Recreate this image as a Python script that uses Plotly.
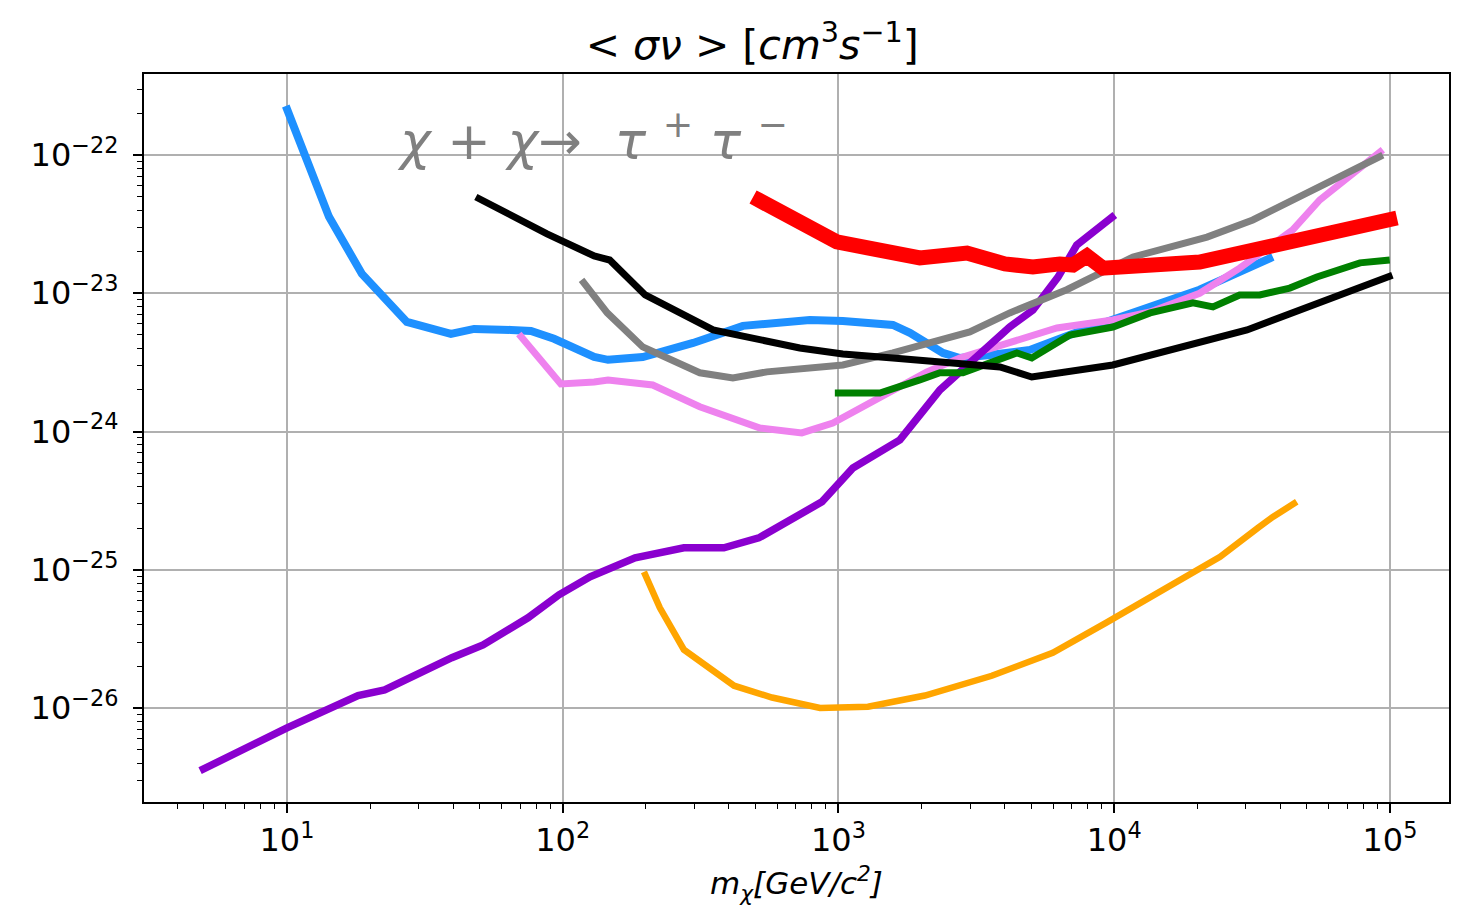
import plotly.graph_objects as go
import numpy as np

# ---- data (mass in GeV/c^2, <sigma v> in cm^3 s^-1) ----
blue_m = [9.9, 14.2, 18.7, 25.1, 27.2, 39.3, 47.7, 64.9, 76.7, 93, 130, 146, 195, 297, 450, 787, 1037, 1575, 1815, 2392, 2755, 3540, 4943, 7690, 9885, 20400, 37600]
blue_sv = [2.26e-22, 3.57e-23, 1.38e-23, 7.08e-24, 6.2e-24, 5.08e-24, 5.52e-24, 5.43e-24, 5.34e-24, 4.68e-24, 3.46e-24, 3.3e-24, 3.46e-24, 4.37e-24, 5.81e-24, 6.41e-24, 6.31e-24, 5.9e-24, 5.17e-24, 3.7e-24, 3.4e-24, 3.58e-24, 3.89e-24, 5.43e-24, 6.41e-24, 1.06e-23, 1.83e-23]

pink_m = [69.3, 98.4, 130, 146, 212, 314, 519, 736, 954, 1378, 2093, 2755, 4180, 6196, 9885, 13500, 20400, 28500, 44400, 55600, 94200]
pink_sv = [5.08e-24, 2.21e-24, 2.28e-24, 2.36e-24, 2.17e-24, 1.51e-24, 1.06e-24, 9.77e-25, 1.15e-24, 1.69e-24, 2.7e-24, 3.4e-24, 4.44e-24, 5.61e-24, 6.41e-24, 7.33e-24, 1.0e-23, 1.52e-23, 2.87e-23, 4.73e-23, 1.09e-22]

purple_m = [4.84, 7.4, 10, 18.1, 22.6, 39.6, 51.4, 74.8, 96.9, 125.6, 183, 275, 384, 514, 871, 1128, 1670, 2333, 3126, 4180, 5070, 6252, 7311, 10050]
purple_sv = [3.52e-27, 5.42e-27, 7.19e-27, 1.23e-26, 1.35e-26, 2.31e-26, 2.86e-26, 4.49e-26, 6.59e-26, 8.89e-26, 1.22e-25, 1.44e-25, 1.44e-25, 1.7e-25, 3.1e-25, 5.45e-25, 8.69e-25, 2.0e-24, 3.4e-24, 5.7e-24, 7.57e-24, 1.31e-23, 2.23e-23, 3.68e-23]

orange_m = [197, 225, 275, 418, 574, 857, 1279, 2058, 3597, 5984, 9330, 17600, 24200, 33200, 37600, 45900]
orange_sv = [9.66e-26, 5.31e-26, 2.64e-26, 1.45e-26, 1.19e-26, 1.0e-26, 1.02e-26, 1.23e-26, 1.71e-26, 2.51e-26, 4.13e-26, 8.45e-26, 1.24e-25, 2.01e-25, 2.41e-25, 3.1e-25]

green_m = [970, 1413, 1972, 2333, 2827, 4011, 4433, 5023, 6902, 9885, 13500, 19300, 22800, 28500, 33700, 43300, 54300, 77800, 99800]
green_sv = [1.9e-24, 1.9e-24, 2.36e-24, 2.66e-24, 2.66e-24, 3.46e-24, 3.7e-24, 3.4e-24, 4.99e-24, 5.7e-24, 7.21e-24, 8.51e-24, 7.96e-24, 9.72e-24, 9.72e-24, 1.09e-23, 1.31e-23, 1.66e-23, 1.74e-23]

gray_m = [117, 145, 195, 314, 414, 550, 1037, 1575, 2993, 4180, 6725, 11700, 21700, 31800, 62000, 94200]
gray_sv = [1.25e-23, 7.21e-24, 4.09e-24, 2.66e-24, 2.44e-24, 2.7e-24, 3.03e-24, 3.7e-24, 5.25e-24, 7.21e-24, 1.06e-23, 1.83e-23, 2.55e-23, 3.39e-23, 6.59e-23, 1.0e-22]

black_m = [48.4, 87.7, 130, 148, 199, 351, 724, 1037, 1575, 2392, 3850, 5023, 9885, 30300, 102000]
black_sv = [4.97e-23, 2.69e-23, 1.86e-23, 1.74e-23, 9.72e-24, 5.43e-24, 4.02e-24, 3.64e-24, 3.4e-24, 3.13e-24, 2.93e-24, 2.48e-24, 3.03e-24, 5.43e-24, 1.35e-23]

red_m = [490, 986, 1972, 2924, 4011, 5070, 6353, 7083, 7960, 9100, 20400, 47000, 106000]
red_sv = [4.97e-23, 2.35e-23, 1.8e-23, 1.95e-23, 1.63e-23, 1.55e-23, 1.63e-23, 1.6e-23, 1.86e-23, 1.52e-23, 1.68e-23, 2.43e-23, 3.5e-23]

x_ticks = [10, 100, 1000, 10000, 100000]
x_ticktext = ["10<sup>1</sup>", "10<sup>2</sup>", "10<sup>3</sup>", "10<sup>4</sup>", "10<sup>5</sup>"]
y_ticks = [1e-26, 1e-25, 1e-24, 1e-23, 1e-22]
y_ticktext = ["10<sup>−26</sup>", "10<sup>−25</sup>", "10<sup>−24</sup>", "10<sup>−23</sup>", "10<sup>−22</sup>"]

series = [
    (blue_m, blue_sv, "#1E90FF", 8),
    (pink_m, pink_sv, "#EE82EE", 7),
    (purple_m, purple_sv, "#8A00CF", 7.5),
    (orange_m, orange_sv, "#FFA500", 6.5),
    (green_m, green_sv, "#008000", 7),
    (gray_m, gray_sv, "#808080", 7),
    (black_m, black_sv, "#000000", 7),
    (red_m, red_sv, "#FF0000", 15),
]

fig = go.Figure()
for m, sv, col, w in series:
    fig.add_trace(go.Scatter(x=m, y=sv, mode="lines",
                             line=dict(color=col, width=w), showlegend=False))

x_minor = [k * 10.0 ** e for e in range(0, 6) for k in range(2, 10)]
y_minor = [k * 10.0 ** e for e in range(-27, -21) for k in range(2, 10)]

W, H = 1465, 898
font_family = "DejaVu Sans"
fig.update_layout(
    width=W, height=H,
    margin=dict(l=136, r=24, t=66, b=104, autoexpand=False),
    paper_bgcolor="white", plot_bgcolor="white",
    font=dict(family=font_family, color="black", size=32),
    title=dict(text="&lt; <i>σν</i> &gt; [<i>cm</i><sup>3</sup><i>s</i><sup>−1</sup>]",
               x=0.508, xanchor="center", y=1 - 37 / H, yanchor="middle",
               font=dict(size=41, family=font_family)),
)
fig.update_xaxes(
    type="log", range=[np.log10(3.03), 5.214],
    tickvals=x_ticks, ticktext=x_ticktext,
    ticks="outside", ticklen=9, tickwidth=2, tickcolor="black",
    showgrid=True, gridcolor="#b0b0b0", gridwidth=1.6,
    showline=True, linecolor="black", linewidth=2, mirror=True,
    zeroline=False, automargin=False,
    minor=dict(tickvals=x_minor, ticks="outside", ticklen=5, tickwidth=1.3, tickcolor="black", showgrid=False),
    tickfont=dict(size=32),
)
fig.update_yaxes(
    type="log", range=[-26.68, -21.414],
    tickvals=y_ticks, ticktext=y_ticktext,
    ticks="outside", ticklen=9, tickwidth=2, tickcolor="black",
    showgrid=True, gridcolor="#b0b0b0", gridwidth=1.6,
    showline=True, linecolor="black", linewidth=2, mirror=True,
    zeroline=False, automargin=False, ticklabelstandoff=8,
    minor=dict(tickvals=y_minor, ticks="outside", ticklen=5, tickwidth=1.3, tickcolor="black", showgrid=False),
    tickfont=dict(size=32),
)

# x-axis title
fig.add_annotation(
    x=0.5, y=-0.112, xref="paper", yref="paper",
    xanchor="center", yanchor="middle", showarrow=False,
    text="<i>m<sub>χ</sub>[GeV/c<sup>2</sup>]</i>",
    font=dict(size=31, color="black", family=font_family),
)

fig.add_annotation(
    x=1.39, y=-21.87, xref="x", yref="y",
    xanchor="left", yanchor="middle", showarrow=False,
    text="<i>χ</i> + <i>χ</i>→  <i>τ</i> <sup>+</sup> <i>τ</i> <sup>−</sup>",
    font=dict(size=52, color="#808080", family=font_family),
)

fig.write_html("out.html")
